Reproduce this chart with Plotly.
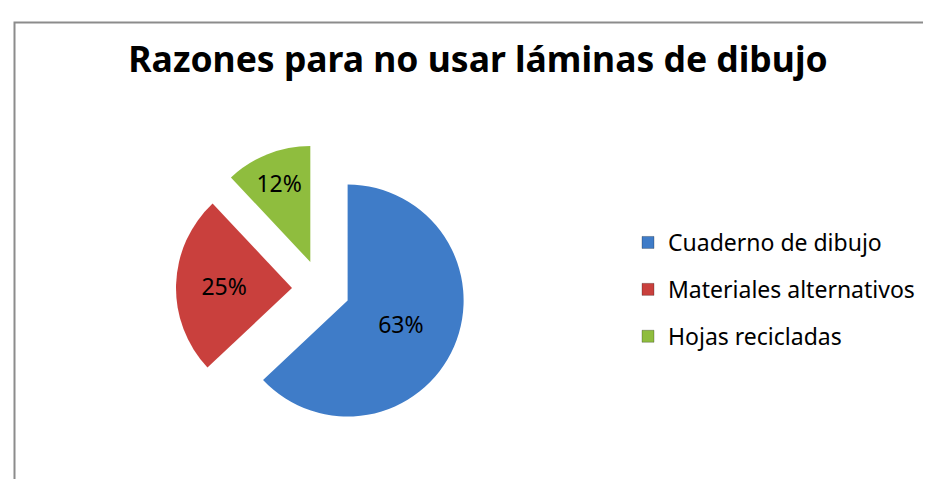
import plotly.graph_objects as go

categories = ["Cuaderno de dibujo", "Materiales alternativos", "Hojas recicladas"]
values = [63, 25, 12]
colors = ["#3F7CC8", "#C9403D", "#8FBD3E"]
title_text = "Razones para no usar láminas de dibujo"

W, H = 931, 479
fig = go.Figure()

fig.add_trace(go.Pie(
    labels=categories,
    values=values,
    sort=False,
    direction="clockwise",
    rotation=0,
    pull=[0.25, 0.25, 0.25],
    marker=dict(colors=colors, line=dict(width=0)),
    texttemplate="%{percent:.0%}",
    textposition="inside",
    insidetextorientation="horizontal",
    textfont=dict(family="Noto Sans", size=23, color="black"),
    showlegend=False,
    domain=dict(x=[168 / W, 458 / W], y=[53 / H, 343 / H]),
    hoverinfo="label+percent",
))

# legend entries
for name, col in zip(categories, colors):
    fig.add_trace(go.Scatter(
        x=[None], y=[None], mode="markers", name=name, legendgroup=name,
        marker=dict(symbol="square", size=12, color=col,
                    line=dict(width=1, color="rgba(0,0,0,0.25)")),
        hoverinfo="skip",
    ))

fig.update_layout(
    width=W, height=H,
    margin=dict(l=0, r=0, t=0, b=0),
    paper_bgcolor="white", plot_bgcolor="white",
    title=dict(text=title_text, x=470 / W, xanchor="center", y=1 - 52 / H, yanchor="middle",
               font=dict(family="Noto Sans", size=35.5, color="black", weight="bold")),
    xaxis=dict(visible=False), yaxis=dict(visible=False),
    legend=dict(x=620 / W, xanchor="left", y=1 - 213 / H, yanchor="top",
                font=dict(family="Noto Sans", size=23, color="black"),
                tracegroupgap=14, itemwidth=30, bgcolor="rgba(0,0,0,0)"),
    shapes=[dict(type="rect", xref="paper", yref="paper",
                 x0=6.5 / W, x1=1.2, y0=-0.2, y1=1 - 14.5 / H,
                 line=dict(color="#8C8C8C", width=2), fillcolor="rgba(0,0,0,0)", layer="below")],
)

fig.write_html("out.html")
